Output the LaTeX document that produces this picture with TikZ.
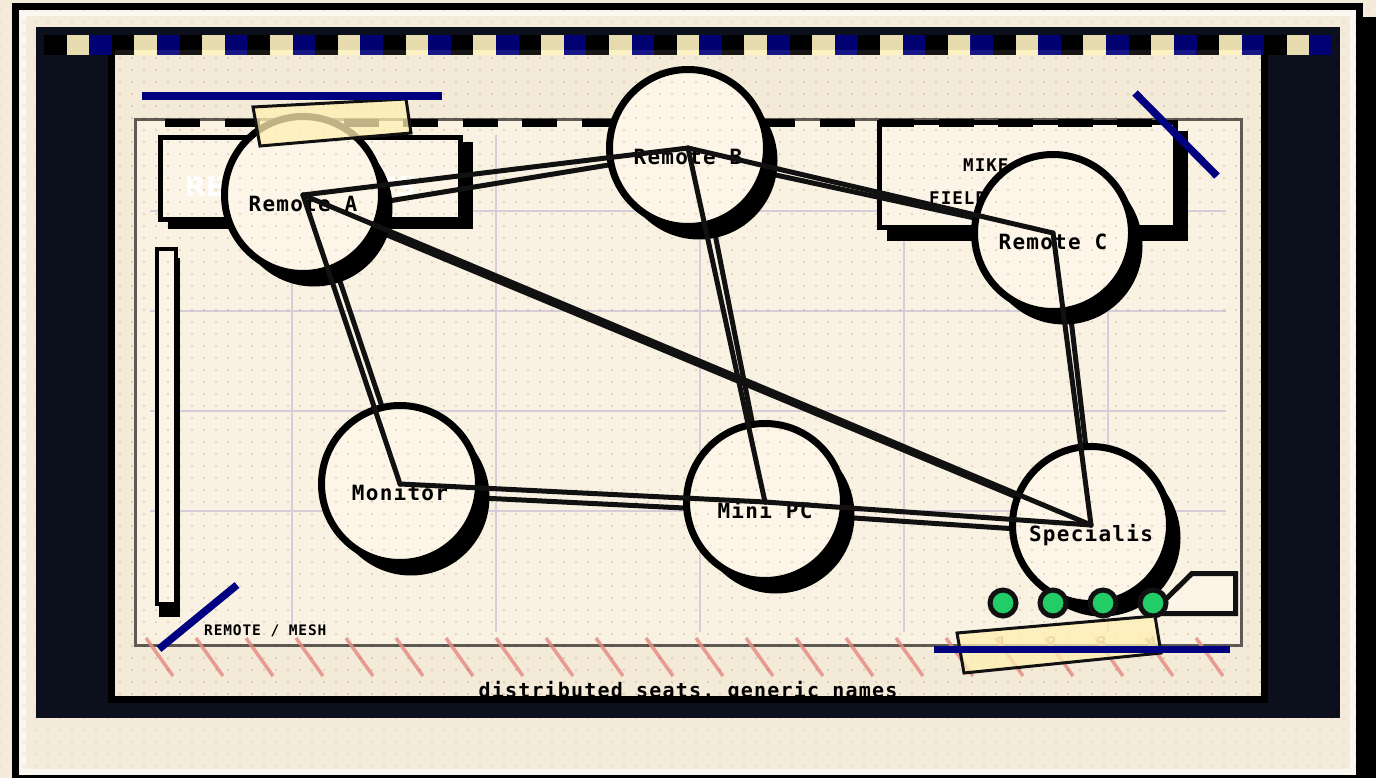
\documentclass[tikz,border=0pt]{standalone}
\usepackage{fontspec}
\setmainfont{DejaVu Sans}
\newfontfamily\monob[LetterSpace=6]{DejaVu Sans Mono}
\usetikzlibrary{calc,shadows,patterns}

\definecolor{pagecream}{HTML}{F4EBDB}
\definecolor{pagelight}{HTML}{FAF7F1}
\definecolor{navybg}{HTML}{0B101C}
\definecolor{paper}{HTML}{F4EAD8}
\definecolor{sheet}{HTML}{F9F1E2}
\definecolor{seatfill}{HTML}{FDF6E8}
\definecolor{boxfill}{HTML}{FCF4E6}
\definecolor{gridline}{HTML}{D7CDD8}
\definecolor{framegray}{HTML}{5F5B54}
\definecolor{marker}{HTML}{000080}
\definecolor{chkcream}{HTML}{FFF3C0}
\definecolor{chknavy}{HTML}{00007E}
\definecolor{ledgreen}{HTML}{22CC66}
\definecolor{hatchred}{HTML}{E48F85}
\definecolor{ink}{HTML}{111111}
\definecolor{tapefill}{HTML}{FFF0B2}
\definecolor{dotgray}{HTML}{E2DACB}
\definecolor{numgray}{HTML}{9D9585}

% fine dot grid used on the paper surfaces
\pgfdeclarepatternformonly{paperdots}{\pgfqpoint{-1.5pt}{-1.5pt}}{\pgfqpoint{1.5pt}{1.5pt}}{\pgfqpoint{12pt}{12pt}}{%
  \pgfpathcircle{\pgfqpoint{0pt}{0pt}}{1.2pt}\pgfusepath{fill}}

\newcommand{\seatfont}{\monob\bfseries\fontsize{21}{21}\selectfont}
\newcommand{\tagfont}{\monob\bfseries\fontsize{14.5}{14.5}\selectfont}
\newcommand{\notefont}{\monob\bfseries\fontsize{17.5}{17.5}\selectfont}
\newcommand{\numfont}{\monob\bfseries\fontsize{16}{16}\selectfont}
\newcommand{\capfont}{\monob\bfseries\fontsize{20}{20}\selectfont}
\newcommand{\titlefont}{\bfseries\fontsize{27}{27}\selectfont}

\pgfdeclarelayer{back}
\pgfdeclarelayer{wires}
\pgfsetlayers{back,wires,main}

\tikzset{
  seat/.style={circle, draw=black, line width=7pt, fill=seatfill,
    minimum size=157pt, inner sep=0pt, font=\seatfont,
    text height=33pt, text depth=0pt,
    general shadow={fill=black, shadow xshift=11pt, shadow yshift=-13pt}},
  wire/.style={draw=ink, line width=5pt, line cap=round},
  panelbox/.style={draw=black, line width=5pt, fill=boxfill},
  led/.style={circle, draw=ink, line width=5pt, fill=ledgreen,
    minimum size=26pt, inner sep=0pt},
  tape/.style={draw=ink, line width=3pt, fill=tapefill, fill opacity=0.75},
  marker stroke/.style={draw=marker, line width=7.5pt},
  hatch/.style={draw=hatchred, line width=3.5pt, opacity=0.85},
  gridrule/.style={draw=gridline, line width=2pt},
}

\begin{document}
\begin{tikzpicture}[x=1pt,y=-1pt]
\useasboundingbox (0,0) rectangle (1376,778);

\begin{pgfonlayer}{back}
  % page and outer card with its shadow
  \fill[pagecream] (0,0) rectangle (1376,778);
  \fill[pattern=paperdots, pattern color=dotgray] (0,0) rectangle (1376,778);
  \fill[black] (25,17) rectangle (1376,796);
  \fill[pagecream] (12,3) rectangle (1363,782);
  \draw[pagelight, line width=6pt] (23,13) rectangle (1353,772);
  \fill[pattern=paperdots, pattern color=dotgray] (19,10) rectangle (1356,775);
  \draw[black, line width=7pt] (15.5,6.5) rectangle (1359.5,778.5);

  % dark board and paper sheet
  \fill[navybg] (36,27) rectangle (1340,718);
  \fill[paper] (115,50) rectangle (1261,696);

  % inner drawing frame with grid
  \fill[sheet] (135.5,119.5) rectangle (1241.5,645.5);
  \foreach \x in {292,496,700,904,1108} \draw[gridrule] (\x,135) -- (\x,632);
  \foreach \y in {211,311,411,511} \draw[gridrule] (150,\y) -- (1226,\y);
  \draw[framegray, line width=3pt] (135.5,119.5) rectangle (1241.5,645.5);

  % hatching along the lower edge
  \foreach \x in {146,196,...,1196} \draw[hatch] (\x,638) -- (\x+27,676);

  % group boxes
  \fill[black] (168,142) rectangle (473,229);
  \draw[panelbox] (160.5,137.5) rectangle (460.5,219.5);
  \node[anchor=base west, text=white, font=\titlefont, inner sep=0pt] (remtitle) at (185,197) {REMOTE SEATS};

  \fill[black] (887,131) rectangle (1188,241);
  \draw[panelbox] (879.5,122.5) rectangle (1175.5,227.5);
  \node[anchor=base west, font=\notefont, inner sep=0pt] (mikenote) at (963,172) {MIKE FEEDS};
  \node[anchor=base west, font=\notefont, inner sep=0pt] (fieldnote) at (929,205) {FIELD RECORDERS};

  % dashed top rule of the frame
  \draw[black, line width=8pt, dash pattern=on 35pt off 24.5pt] (165,123) -- (1152,123);

  % side rail
  \fill[black] (159,258) rectangle (180,617);
  \draw[panelbox, line width=4pt] (157,249) rectangle (176,604);
\end{pgfonlayer}

% seats
\node[seat] (remA) at (303,195) {Remote A};
\node[seat] (remB) at (688,148) {Remote B};
\node[seat] (remC) at (1053,233) {Remote C};
\node[seat] (mon)  at (400,484) {Monitor};
\node[seat] (mini) at (765,502) {Mini PC};
\node[seat] (spec) at (1091,525) {Specialis};

% second, looser pass of each link (tucked under the seats)
\begin{pgfonlayer}{wires}
  \draw[wire] ($(remA)+(0,20)$) -- ($(remB)+(0,4)$);
  \draw[wire] ($(remA)+(8,0)$) -- ($(mon)+(8,0)$);
  \draw[wire] ($(remA)+(0,5)$) -- ($(spec)+(0,3)$);
  \draw[wire] ($(remB)+(0,8)$) -- ($(remC)+(0,2)$);
  \draw[wire] ($(remB)+(10,0)$) -- ($(mini)+(3,0)$);
  \draw[wire] ($(remC)+(8,0)$) -- ($(spec)+(4,0)$);
  \draw[wire] ($(mon)+(0,10)$) -- ($(mini)+(0,10)$);
  \draw[wire] ($(mini)+(0,10)$) -- ($(spec)+(0,9)$);
\end{pgfonlayer}

% links, centre to centre
\draw[wire] (remA.center) -- (remB.center);
\draw[wire] (remA.center) -- (mon.center);
\draw[wire] (remA.center) -- (spec.center);
\draw[wire] (remB.center) -- (remC.center);
\draw[wire] (remB.center) -- (mini.center);
\draw[wire] (remC.center) -- (spec.center);
\draw[wire] (mon.center) -- (mini.center);
\draw[wire] (mini.center) -- (spec.center);

% paper grain over the sheet
\begin{scope}[blend mode=multiply]
  \fill[pattern=paperdots, pattern color=dotgray] (115,50) rectangle (1261,696);
\end{scope}

% port numbers, plug tab and status lamps
\node[font=\numfont, text=numgray] (p1) at (1002,643) {1};
\node[font=\numfont, text=numgray] (p2) at (1052,643) {2};
\node[font=\numfont, text=numgray] (p3) at (1102,643) {3};
\node[font=\numfont, text=numgray] (p4) at (1152,643) {4};
\draw[draw=ink, line width=5pt, fill=boxfill] (1165,600) -- (1192,573.5) -- (1235.5,573.5) -- (1235.5,613.5) -- (1160,613.5) -- cycle;
\node[led] (led1) at (1003,603) {};
\node[led] (led2) at (1053,603) {};
\node[led] (led3) at (1103,603) {};
\node[led] (led4) at (1153,603) {};

% tape strips
\draw[tape] (253,107) -- (406,99) -- (411,133) -- (260,146) -- cycle;
\draw[tape] (957,633) -- (1155,616) -- (1161,653) -- (964,673) -- cycle;

% marker strokes
\draw[marker stroke] (142,96) -- (442,96);
\draw[marker stroke] (1135,93) -- (1217,176);
\draw[marker stroke] (159,649) -- (237,585);
\draw[marker stroke] (934,649.5) -- (1230,649.5);

% labels
\node[anchor=base west, font=\tagfont, inner sep=0pt] (meshlbl) at (204,635) {REMOTE / MESH};
\node[anchor=base, font=\capfont, inner sep=0pt] (caption) at (688,697) {distributed seats, generic names};

% sheet border and checker band
\draw[black, line width=7pt] (111.5,46.5) rectangle (1264.5,699.5);
\begin{scope}[opacity=0.9]
  \foreach \i in {0,3,...,54} \fill[black] (44+\i*22.596,35) rectangle (44+\i*22.596+22.7,55);
  \foreach \i in {1,4,...,55} \fill[chkcream] (44+\i*22.596,35) rectangle (44+\i*22.596+22.7,55);
  \foreach \i in {2,5,...,56} \fill[chknavy] (44+\i*22.596,35) rectangle (44+\i*22.596+22.7,55);
\end{scope}
\end{tikzpicture}
\end{document}
